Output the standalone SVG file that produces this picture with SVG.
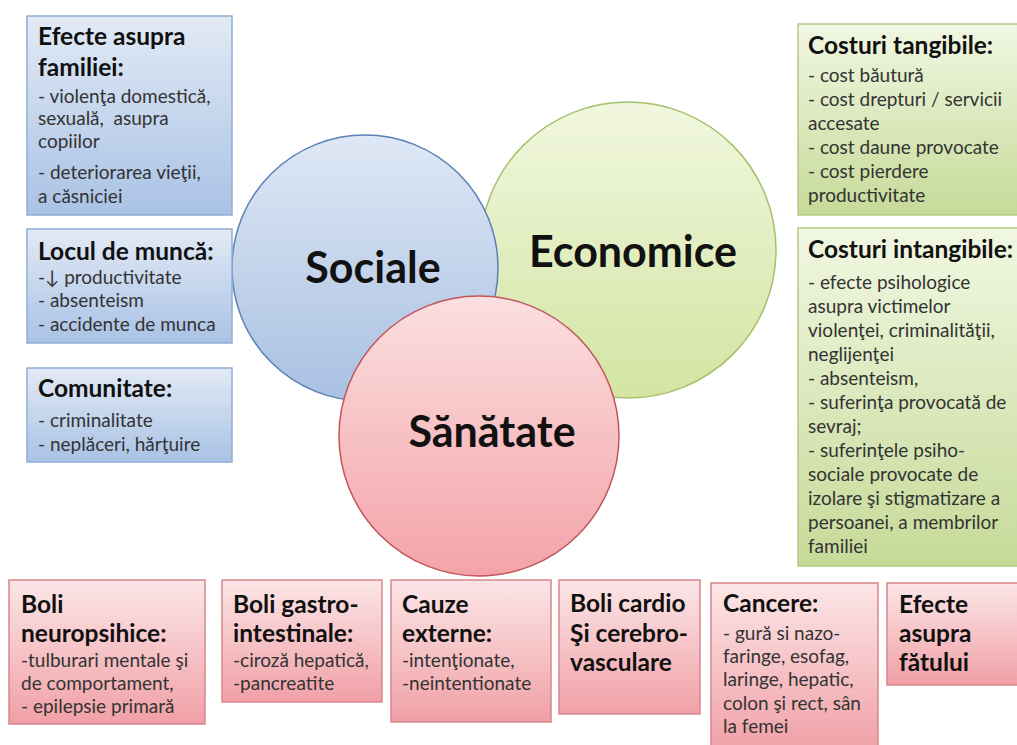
<svg xmlns="http://www.w3.org/2000/svg" width="1017" height="745" viewBox="0 0 1017 745">
<defs>
<linearGradient id="gBlueBox" x1="0" y1="0" x2="0" y2="1"><stop offset="0" stop-color="#e2eaf5"/><stop offset="1" stop-color="#a9c2e5"/></linearGradient>
<linearGradient id="gGreenBox" x1="0" y1="0" x2="0" y2="1"><stop offset="0" stop-color="#f1f7e2"/><stop offset="1" stop-color="#c6da98"/></linearGradient>
<linearGradient id="gRedBox" x1="0" y1="0" x2="0" y2="1"><stop offset="0" stop-color="#fce6e7"/><stop offset="1" stop-color="#f0a0a6"/></linearGradient>
<linearGradient id="gBlueC" x1="0" y1="0" x2="0" y2="1"><stop offset="0" stop-color="#dfe8f5"/><stop offset="1" stop-color="#a8c0e2"/></linearGradient>
<linearGradient id="gGreenC" x1="0" y1="0" x2="0" y2="1"><stop offset="0" stop-color="#f1f7df"/><stop offset="1" stop-color="#d3e4a2"/></linearGradient>
<linearGradient id="gRedC" x1="0" y1="0" x2="0" y2="1"><stop offset="0" stop-color="#fbdfe0"/><stop offset="1" stop-color="#f3a3a8"/></linearGradient>
</defs>
<style>
.bb{fill:url(#gBlueBox);stroke:#8fadd6;stroke-width:1.5}
.gb{fill:url(#gGreenBox);stroke:#b3c986;stroke-width:1.5}
.rb{fill:url(#gRedBox);stroke:#d8878c;stroke-width:1.5}
.t{font-family:Lato,"Open Sans","Liberation Sans",sans-serif;font-weight:bold;font-size:24.5px;fill:#111}
.b{font-family:Lato,"Open Sans","Liberation Sans",sans-serif;font-size:19px;fill:#333}
.big{font-family:Lato,"Open Sans","Liberation Sans",sans-serif;font-weight:bold;font-size:43px;fill:#111;text-anchor:middle}
</style>
<rect width="1017" height="745" fill="#ffffff"/>
<g id="circles">
<g id="economice"><circle cx="628" cy="250" r="148" fill="url(#gGreenC)" stroke="#a5c06a" stroke-width="1.5"/><text class="big" x="633" y="267">Economice</text></g>
<g id="sociale"><circle cx="365" cy="268" r="133" fill="url(#gBlueC)" stroke="#5a80b5" stroke-width="1.5"/><text class="big" x="373" y="283">Sociale</text></g>
<g id="sanatate"><circle cx="479" cy="436" r="140" fill="url(#gRedC)" stroke="#c0555a" stroke-width="1.5"/><text class="big" x="492" y="447">Sănătate</text></g>
</g>
<g id="connectors"></g>
<g id="efecte-familiei"><rect class="bb" x="27" y="16" width="205" height="199"/>
<text class="t" x="38" y="45">Efecte asupra</text><text class="t" x="38" y="76">familiei:</text>
<text class="b" x="38" y="103">- violenţa domestică,</text><text class="b" x="38" y="125" xml:space="preserve" style="white-space:pre">sexuală,  asupra</text><text class="b" x="38" y="148">copiilor</text><text class="b" x="38" y="179">- deteriorarea vieţii,</text><text class="b" x="38" y="203">a căsniciei</text></g>
<g id="locul-munca"><rect class="bb" x="27" y="229" width="205" height="114"/>
<text class="t" x="38" y="260">Locul de muncă:</text>
<text class="b" x="38" y="284">-↓ productivitate</text><text class="b" x="38" y="307">- absenteism</text><text class="b" x="38" y="331">- accidente de munca</text></g>
<g id="comunitate"><rect class="bb" x="27" y="368" width="205" height="94"/>
<text class="t" x="38" y="397">Comunitate:</text>
<text class="b" x="38" y="427">- criminalitate</text><text class="b" x="38" y="451">- neplăceri, hărţuire</text></g>
<g id="costuri-tangibile"><rect class="gb" x="798" y="24" width="225" height="191"/>
<text class="t" x="808" y="54">Costuri tangibile:</text>
<text class="b" x="808" y="82">- cost băutură</text><text class="b" x="808" y="106">- cost drepturi / servicii</text><text class="b" x="808" y="130">accesate</text><text class="b" x="808" y="154">- cost daune provocate</text><text class="b" x="808" y="178">- cost pierdere</text><text class="b" x="808" y="202">productivitate</text></g>
<g id="costuri-intangibile"><rect class="gb" x="798" y="228" width="225" height="338"/>
<text class="t" x="808" y="258">Costuri intangibile:</text>
<text class="b" x="808" y="289">- efecte psihologice</text><text class="b" x="808" y="313">asupra victimelor</text><text class="b" x="808" y="337">violenţei, criminalităţii,</text><text class="b" x="808" y="361">neglijenţei</text><text class="b" x="808" y="385">- absenteism,</text><text class="b" x="808" y="409">- suferinţa provocată de</text><text class="b" x="808" y="433">sevraj;</text><text class="b" x="808" y="457">- suferinţele psiho-</text><text class="b" x="808" y="481">sociale provocate de</text><text class="b" x="808" y="505">izolare şi stigmatizare a</text><text class="b" x="808" y="529">persoanei, a membrilor</text><text class="b" x="808" y="553">familiei</text></g>
<g id="boli-neuropsihice"><rect class="rb" x="9" y="580" width="196" height="144"/>
<text class="t" x="21" y="613">Boli</text><text class="t" x="21" y="642">neuropsihice:</text>
<text class="b" x="21" y="667">-tulburari mentale şi</text><text class="b" x="21" y="690">de comportament,</text><text class="b" x="21" y="713">- epilepsie primară</text></g>
<g id="boli-gastro"><rect class="rb" x="222" y="580" width="160" height="122"/>
<text class="t" x="233" y="613">Boli gastro-</text><text class="t" x="233" y="642">intestinale:</text>
<text class="b" x="233" y="667">-ciroză hepatică,</text><text class="b" x="233" y="690">-pancreatite</text></g>
<g id="cauze-externe"><rect class="rb" x="391" y="580" width="160" height="142"/>
<text class="t" x="402" y="613">Cauze</text><text class="t" x="402" y="642">externe:</text>
<text class="b" x="402" y="667">-intenţionate,</text><text class="b" x="402" y="690">-neintentionate</text></g>
<g id="boli-cardio"><rect class="rb" x="559" y="580" width="141" height="134"/>
<text class="t" x="570" y="612">Boli cardio</text><text class="t" x="570" y="642">Şi cerebro-</text><text class="t" x="570" y="671">vasculare</text></g>
<g id="cancere"><rect class="rb" x="711" y="583" width="167" height="170"/>
<text class="t" x="723" y="612">Cancere:</text>
<text class="b" x="723" y="640">- gură si nazo-</text><text class="b" x="723" y="663">faringe, esofag,</text><text class="b" x="723" y="686">laringe, hepatic,</text><text class="b" x="723" y="710">colon şi rect, sân</text><text class="b" x="723" y="733">la femei</text></g>
<g id="efecte-fatului"><rect class="rb" x="887" y="583" width="140" height="102"/>
<text class="t" x="899" y="613">Efecte</text><text class="t" x="899" y="642">asupra</text><text class="t" x="899" y="671">fătului</text></g>
</svg>
